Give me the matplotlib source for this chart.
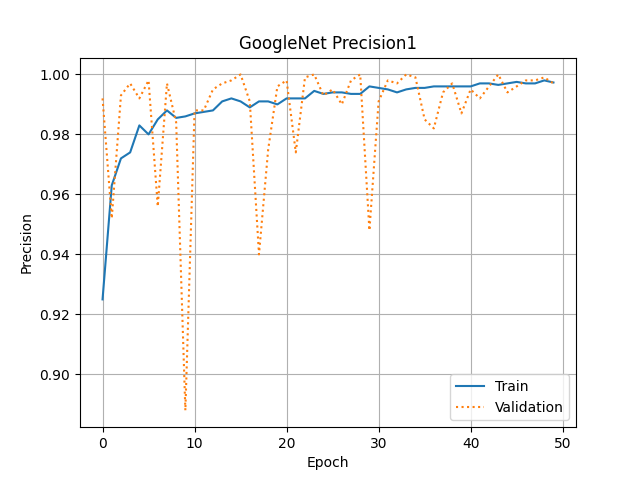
import matplotlib
matplotlib.use('Agg')
import matplotlib.pyplot as plt

epochs = list(range(50))
train = [0.925, 0.963, 0.972, 0.974, 0.983, 0.980, 0.985, 0.988, 0.9855, 0.986,
         0.987, 0.9875, 0.988, 0.991, 0.992, 0.991, 0.989, 0.991, 0.991, 0.990,
         0.992, 0.992, 0.992, 0.9945, 0.9935, 0.994, 0.994, 0.9935, 0.9935, 0.996,
         0.9955, 0.995, 0.994, 0.995, 0.9955, 0.9955, 0.996, 0.996, 0.996, 0.996,
         0.996, 0.997, 0.997, 0.9965, 0.997, 0.9975, 0.997, 0.997, 0.998, 0.9973]
val = [0.992, 0.952, 0.993, 0.997, 0.992, 0.998, 0.956, 0.997, 0.984, 0.888,
       0.988, 0.988, 0.995, 0.997, 0.998, 1.000, 0.991, 0.940, 0.975, 0.996,
       0.998, 0.974, 0.999, 1.000, 0.993, 0.995, 0.990, 0.998, 1.000, 0.948,
       0.991, 0.998, 0.997, 1.000, 0.999, 0.985, 0.982, 0.994, 0.997, 0.987,
       0.995, 0.992, 0.996, 1.000, 0.994, 0.996, 0.998, 0.998, 0.999, 0.997]

fig, ax = plt.subplots(figsize=(6.4, 4.8), dpi=100)
ax.plot(epochs, train, label='Train')
ax.plot(epochs, val, ':', label='Validation')
ax.set_title('GoogleNet Precision1')
ax.set_xlabel('Epoch')
ax.set_ylabel('Precision')
ax.grid(True)
ax.legend(loc='lower right')
fig.savefig('out.png')
